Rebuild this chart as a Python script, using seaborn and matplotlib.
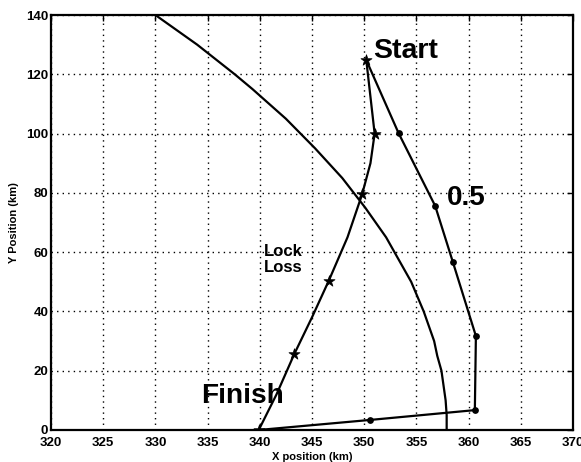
import matplotlib
matplotlib.use("Agg")
import matplotlib.pyplot as plt
import seaborn as sns
import pandas as pd

# ---- data ----
# Lock-loss boundary (arc)
arc_x = [330.0, 332.0, 334.0, 335.8, 337.6, 339.3, 340.9, 342.5, 343.9, 345.3, 346.6, 347.9,
         349.0, 350.1, 351.1, 352.1, 352.9, 353.7, 354.5, 355.1, 355.7, 356.2, 356.7, 357.0,
         357.4, 357.6, 357.8, 357.9, 357.9]
arc_y = [140, 135, 130, 125, 120, 115, 110, 105, 100, 95, 90, 85,
         80, 75, 70, 65, 60, 55, 50, 45, 40, 35, 30, 25,
         20, 15, 10, 5, 0]

# Star trajectory (path + marker points)
star_path_x = [350.2, 351.0, 350.6, 349.8, 348.4, 346.6, 345.0, 343.3, 341.6, 339.9]
star_path_y = [124.8, 100.0, 90.0, 79.5, 65.0, 50.3, 38.0, 25.6, 12.0, 0.0]
star_mark_x = [350.2, 351.0, 349.8, 346.6, 343.3, 339.9]
star_mark_y = [124.8, 100.0, 79.5, 50.3, 25.6, 0.0]

# "0.5" trajectory (circle markers)
dot_x = [350.2, 353.3, 356.8, 358.5, 360.7, 360.6, 350.6, 339.9]
dot_y = [124.8, 100.1, 75.6, 56.6, 31.7, 6.7, 3.4, 0.0]
dot_mark_x = [353.3, 356.8, 358.5, 360.7, 360.6, 350.6]
dot_mark_y = [100.1, 75.6, 56.6, 31.7, 6.7, 3.4]

x_ticks = [320, 325, 330, 335, 340, 345, 350, 355, 360, 365, 370]
y_ticks = [0, 20, 40, 60, 80, 100, 120, 140]

sns.set_style("white")
plt.rcParams['font.family'] = ['Liberation Sans', 'DejaVu Sans']
plt.rcParams['font.weight'] = 'bold'
for k in ['text.color', 'axes.labelcolor', 'xtick.color', 'ytick.color', 'axes.edgecolor']:
    plt.rcParams[k] = 'black'

fig = plt.figure(figsize=(5.81, 4.62), dpi=100)
ax = fig.add_axes([0.0878, 0.0693, 0.8984, 0.8982])

lw = 1.6
sns.lineplot(data=pd.DataFrame({"x": arc_x, "y": arc_y}), x="x", y="y", sort=False,
             estimator=None, color="black", linewidth=lw, ax=ax)
sns.lineplot(data=pd.DataFrame({"x": star_path_x, "y": star_path_y}), x="x", y="y", sort=False,
             estimator=None, color="black", linewidth=lw, ax=ax)
sns.lineplot(data=pd.DataFrame({"x": dot_x, "y": dot_y}), x="x", y="y", sort=False,
             estimator=None, color="black", linewidth=lw, ax=ax)
sns.scatterplot(x=star_mark_x, y=star_mark_y, marker="*", s=70, color="black",
                edgecolor="black", linewidth=0.5, ax=ax, zorder=5)
sns.scatterplot(x=dot_mark_x, y=dot_mark_y, marker="o", s=24, color="black",
                edgecolor="black", linewidth=0, ax=ax, zorder=5)

ax.set_xlim(320, 370)
ax.set_ylim(0, 140)
ax.set_xticks(x_ticks)
ax.set_yticks(y_ticks)
ax.set_xticklabels([str(t) for t in x_ticks], fontsize=9.5, fontweight="bold")
ax.set_yticklabels([str(t) for t in y_ticks], fontsize=9.5, fontweight="bold")
ax.tick_params(axis="x", direction="in", top=True, length=4, width=1.0, pad=5)
ax.tick_params(axis="y", direction="in", right=True, length=4, width=1.0, pad=2)
ax.grid(True, linestyle=(0, (1, 3)), color="black", linewidth=1.0)
for sp in ax.spines.values():
    sp.set_color("black")
    sp.set_linewidth(1.6)

ax.set_xlabel("X position (km)", fontsize=8, fontweight="bold", labelpad=2)
ax.set_ylabel("Y Position (km)", fontsize=8, fontweight="bold", labelpad=5)

ax.text(350.85, 125.6, "Start", fontsize=20.5, fontweight="bold", ha="left", va="baseline")
ax.text(357.9, 78.4, "0.5", fontsize=20, fontweight="bold", ha="left", va="center")
ax.text(334.4, 9.0, "Finish", fontsize=20.2, fontweight="bold", ha="left", va="baseline")
ax.text(340.4, 57.5, "Lock\nLoss", fontsize=12, fontweight="bold", ha="left", va="center",
        linespacing=1.15)

fig.savefig("out.png", dpi=100)
